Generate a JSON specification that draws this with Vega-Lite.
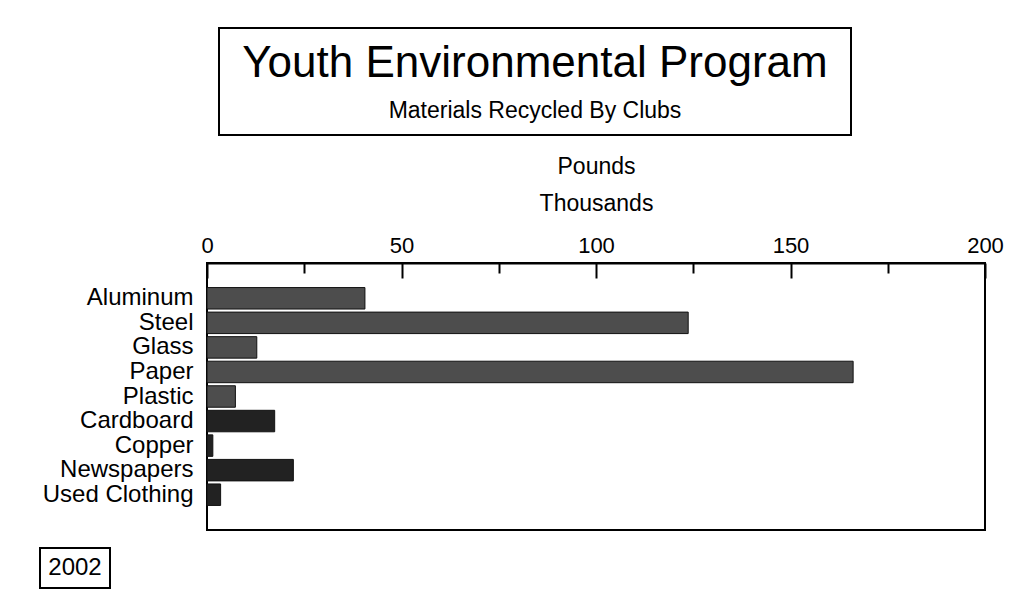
{
  "$schema": "https://vega.github.io/schema/vega-lite/v6.json",
  "background": "white",
  "padding": {"left": 39, "top": 27, "right": 0, "bottom": 0},
  "config": {
    "font": "Liberation Sans",
    "view": {"stroke": null},
    "text": {"font": "Liberation Sans", "color": "black"}
  },
  "spacing": 16,
  "vconcat": [
    {
      "spacing": 18,
      "vconcat": [
        {
          "spacing": 0,
          "hconcat": [
            {
              "width": 178,
              "height": 107,
              "data": {"values": [{"blank": ""}]},
              "mark": {"type": "text"},
              "encoding": {"text": {"field": "blank"}}
            },
            {
              "width": 632,
              "height": 107,
              "view": {"stroke": "black", "strokeWidth": 2},
              "data": {"values": [{"title": "Youth Environmental Program", "subtitle": "Materials Recycled By Clubs"}]},
              "layer": [
                {
                  "mark": {"type": "text", "fontSize": 44, "baseline": "alphabetic", "dy": -4.5},
                  "encoding": {"text": {"field": "title"}}
                },
                {
                  "mark": {"type": "text", "fontSize": 23, "baseline": "alphabetic", "dy": 36.5},
                  "encoding": {"text": {"field": "subtitle"}}
                }
              ]
            }
          ]
        },
        {
          "spacing": 0,
          "hconcat": [
            {
              "width": 1,
              "height": 267,
              "data": {"values": [{"blank": ""}]},
              "mark": {"type": "text"},
              "encoding": {"text": {"field": "blank"}}
            },
            {
              "width": 778,
              "height": 267,
              "view": {"stroke": "black", "strokeWidth": 2},
              "data": {
                "values": [
                  {"material": "Aluminum", "pounds_thousands": 40.6},
                  {"material": "Steel", "pounds_thousands": 123.7},
                  {"material": "Glass", "pounds_thousands": 12.8},
                  {"material": "Paper", "pounds_thousands": 166.1},
                  {"material": "Plastic", "pounds_thousands": 7.3},
                  {"material": "Cardboard", "pounds_thousands": 17.4},
                  {"material": "Copper", "pounds_thousands": 1.5},
                  {"material": "Newspapers", "pounds_thousands": 22.2},
                  {"material": "Used Clothing", "pounds_thousands": 3.5}
                ]
              },
              "mark": {"type": "bar", "stroke": "#111111", "strokeWidth": 1},
              "encoding": {
                "y": {
                  "field": "material",
                  "type": "nominal",
                  "sort": null,
                  "scale": {"paddingInner": 0.125, "paddingOuter": 1.2},
                  "axis": {
                    "title": null,
                    "ticks": false,
                    "domain": false,
                    "labelFontSize": 24,
                    "labelPadding": 14,
                    "labelColor": "black",
                    "labelLimit": 300
                  }
                },
                "x": {
                  "field": "pounds_thousands",
                  "type": "quantitative",
                  "scale": {"domain": [0, 200], "nice": false},
                  "axis": {
                    "orient": "top",
                    "values": [0, 25, 50, 75, 100, 125, 150, 175, 200],
                    "labelExpr": "datum.value % 50 === 0 ? datum.label : ''",
                    "tickSize": {"condition": {"test": "datum.value % 50 === 0", "value": -15}, "value": -10},
                    "tickColor": "black",
                    "tickWidth": 2,
                    "domainColor": "black",
                    "domainWidth": 2,
                    "grid": false,
                    "labelFlush": false,
                    "labelOverlap": false,
                    "labelFontSize": 22,
                    "labelColor": "black",
                    "labelPadding": 21,
                    "title": ["Pounds", "Thousands"],
                    "titleFontSize": 23,
                    "titleFontWeight": "normal",
                    "titleLineHeight": 37,
                    "titlePadding": 14,
                    "titleColor": "black"
                  }
                },
                "color": {
                  "condition": {
                    "test": "indexof(['Cardboard','Copper','Newspapers','Used Clothing'], datum.material) >= 0",
                    "value": "#222222"
                  },
                  "value": "#4d4d4d"
                }
              }
            }
          ]
        }
      ]
    },
    {
      "width": 70,
      "height": 40,
      "view": {"stroke": "black", "strokeWidth": 2},
      "data": {"values": [{"year": "2002"}]},
      "mark": {"type": "text", "fontSize": 24, "baseline": "middle"},
      "encoding": {"text": {"field": "year"}}
    }
  ]
}
